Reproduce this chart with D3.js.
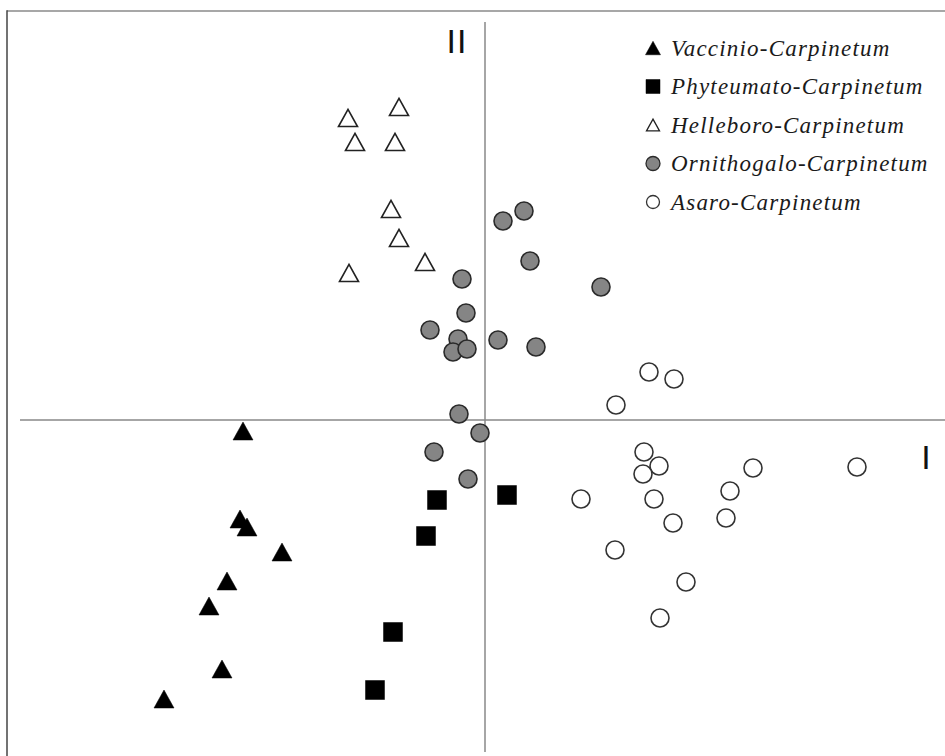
<!DOCTYPE html>
<html><head><meta charset="utf-8">
<script src="https://cdn.jsdelivr.net/npm/d3@7"></script>
<style>html,body{margin:0;padding:0;background:#fff;}</style>
</head><body>
<svg id="chart" width="945" height="756"></svg>
<script>
const seriesNames = ["Vaccinio-Carpinetum","Phyteumato-Carpinetum","Helleboro-Carpinetum","Ornithogalo-Carpinetum","Asaro-Carpinetum"];
const vaccinio = [[-2.42,-0.11],[-2.45,-0.99],[-2.38,-1.07],[-2.03,-1.32],[-2.58,-1.61],[-2.76,-1.86],[-2.63,-2.49],[-3.21,-2.79]];
const phyteumato = [[-0.48,-0.80],[0.22,-0.75],[-0.59,-1.16],[-0.92,-2.12],[-1.10,-2.70]];
const helleboro = [[-1.37,3.02],[-0.86,3.13],[-1.30,2.78],[-0.90,2.78],[-0.94,2.11],[-0.86,1.82],[-0.60,1.58],[-1.36,1.47]];
const ornithogalo = [[0.18,1.99],[0.39,2.09],[0.45,1.59],[1.16,1.33],[-0.23,1.41],[-0.19,1.07],[-0.55,0.90],[-0.27,0.81],[-0.32,0.68],[-0.18,0.71],[0.13,0.80],[0.51,0.73],[-0.26,0.06],[-0.05,-0.13],[-0.51,-0.32],[-0.17,-0.59]];
const asaro = [[1.64,0.48],[1.89,0.41],[1.31,0.15],[1.59,-0.32],[1.74,-0.46],[1.58,-0.54],[2.68,-0.48],[3.72,-0.47],[0.96,-0.79],[1.69,-0.79],[2.45,-0.71],[1.88,-1.03],[2.41,-0.98],[1.30,-1.30],[2.01,-1.62],[1.75,-1.98]];
const axisLabels = ["I","II"];

const svg = d3.select("#chart");
const x = d3.scaleLinear().domain([-4.65, 4.60]).range([20, 945]);
const y = d3.scaleLinear().domain([-3.32, 3.98]).range([752, 22]);

// frame
svg.append("line").attr("x1",7).attr("x2",945).attr("y1",11).attr("y2",11).attr("stroke","#8a8a8a").attr("stroke-width",1.5);
svg.append("line").attr("x1",7).attr("x2",7).attr("y1",10.3).attr("y2",756).attr("stroke","#444").attr("stroke-width",1.5);

// axes through origin
svg.append("line").attr("x1",x(0)).attr("x2",x(0)).attr("y1",y.range()[1]).attr("y2",y.range()[0]).attr("stroke","#888").attr("stroke-width",1.5);
svg.append("line").attr("x1",x.range()[0]).attr("x2",x.range()[1]).attr("y1",y(0)).attr("y2",y(0)).attr("stroke","#888").attr("stroke-width",1.5);

svg.append("text").attr("x",926).attr("y",469).attr("text-anchor","middle").attr("font-family","DejaVu Sans").attr("font-size",32).attr("fill","#111").text(axisLabels[0]);
svg.append("text").attr("x",457).attr("y",53).attr("text-anchor","middle").attr("font-family","DejaVu Sans").attr("font-size",32).attr("letter-spacing",1).attr("fill","#111").text(axisLabels[1]);

function tri(s){const h=s*0.9;return `M0,${-h/2}L${s/2},${h/2}L${-s/2},${h/2}Z`;}
function sq(s){return `M${-s/2},${-s/2}h${s}v${s}h${-s}Z`;}
function circ(r){return `M${r},0A${r},${r},0,1,1,${-r},0A${r},${r},0,1,1,${r},0Z`;}

const styles = [
  {data:vaccinio, path:tri(20), lp:tri(15), fill:"#000", stroke:"#000", sw:0.5},
  {data:phyteumato, path:sq(19), lp:sq(14), fill:"#000", stroke:"#000", sw:0.5},
  {data:helleboro, path:tri(19), lp:tri(13), fill:"#fff", stroke:"#222", sw:1.6},
  {data:ornithogalo, path:circ(9), lp:circ(7), fill:"#858585", stroke:"#2a2a2a", sw:1.6},
  {data:asaro, path:circ(9), lp:circ(6.5), fill:"#fff", stroke:"#333", sw:1.6}
];

const drawOrder = [2,0,1,4,3];
drawOrder.forEach(i=>{
  const s = styles[i];
  svg.append("g").selectAll("path").data(s.data).join("path")
    .attr("transform",d=>`translate(${x(d[0])},${y(d[1])})`)
    .attr("d",s.path).attr("fill",s.fill).attr("stroke",s.stroke).attr("stroke-width",s.sw);
});

// legend
const leg = svg.append("g");
const ly = d3.scaleLinear().domain([0,4]).range([48,202]);
seriesNames.forEach((n,i)=>{
  const s = styles[i];
  leg.append("path").attr("transform",`translate(653,${ly(i)})`).attr("d",s.lp)
    .attr("fill",s.fill).attr("stroke",s.stroke).attr("stroke-width",s.sw>1?1.3:0.5);
  leg.append("text").attr("x",671).attr("y",ly(i)+7.5).attr("font-family","Liberation Serif").attr("font-style","italic")
    .attr("font-size",23).attr("letter-spacing",1.2).attr("fill","#1a1a1a").text(n);
});
</script>
</body></html>
